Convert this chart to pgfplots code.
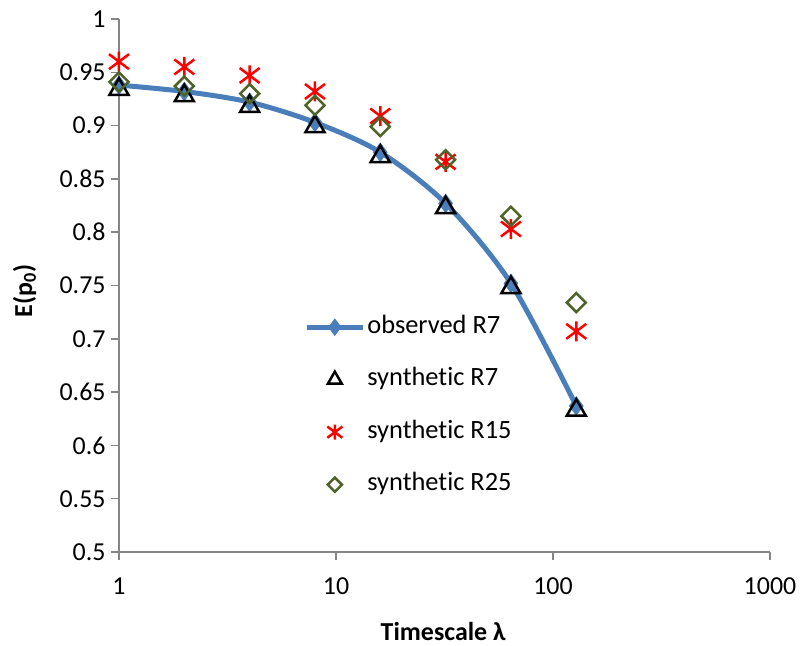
\documentclass[border=0pt]{standalone}
\usepackage{fontspec}
\setmainfont{Carlito}[Ligatures=NoCommon]
\usepackage{pgfplots}
\pgfplotsset{compat=1.18}
\definecolor{obsblue}{RGB}{74,126,187}
\definecolor{axgray}{RGB}{134,134,134}
\definecolor{olivegreen}{RGB}{79,98,40}
\pgfdeclareplotmark{xstar}{%
  \pgfpathmoveto{\pgfqpoint{0pt}{\pgfplotmarksize}}%
  \pgfpathlineto{\pgfqpoint{0pt}{-\pgfplotmarksize}}%
  \pgfpathmoveto{\pgfqpoint{-\pgfplotmarksize}{.75\pgfplotmarksize}}%
  \pgfpathlineto{\pgfqpoint{\pgfplotmarksize}{-.75\pgfplotmarksize}}%
  \pgfpathmoveto{\pgfqpoint{-\pgfplotmarksize}{-.75\pgfplotmarksize}}%
  \pgfpathlineto{\pgfqpoint{\pgfplotmarksize}{.75\pgfplotmarksize}}%
  \pgfusepathqstroke}
\begin{document}
\begin{tikzpicture}
\begin{axis}[
  at={(0,0)}, anchor=south west, scale only axis,
  width=651bp, height=533bp,
  xmode=log, xmin=1, xmax=1000, ymin=0.5, ymax=1,
  axis lines=left, axis line style={-, draw=axgray, line width=1.5bp},
  tick align=outside, major tick length=8bp,
  tick style={draw=axgray, line width=1.5bp},
  xminorticks=false, yminorticks=false,
  xtick={1,10,100,1000}, xticklabels={1,10,100,1000},
  ytick={0.5,0.55,0.6,0.65,0.7,0.75,0.8,0.85,0.9,0.95,1},
  yticklabels={0.5,0.55,0.6,0.65,0.7,0.75,0.8,0.85,0.9,0.95,1},
  /pgf/number format/assume math mode=true,
  ticklabel style={font=\fontsize{26}{31}\selectfont},
  xticklabel style={yshift=-14bp},
  yticklabel style={xshift=-2bp},
  xlabel={\bfseries Timescale λ},
  ylabel={\bfseries E(p\textsubscript{0})},
  label style={font=\fontsize{26}{31}\selectfont},
  xlabel style={at={(axis description cs:0.498,-0.150)}, anchor=center},
  ylabel style={at={(axis description cs:-0.145,0.49)}, anchor=center, rotate=0},
  legend image code/.code={\draw[mark repeat=2,mark phase=2,#1] plot coordinates {(0bp,0bp) (28bp,0bp) (56bp,0bp)};},
  legend cell align=left,
  legend style={at={(0.2844,0.4485)}, anchor=north west, draw=none, fill=none,
    inner sep=0pt, row sep=24.5bp, font=\fontsize{26.5}{31}\selectfont,
    nodes={inner sep=2bp, text height=18bp, text depth=6bp}},
]
\addplot[obsblue, line width=5bp, smooth, tension=0.5, mark=diamond*, mark size=9bp,
  mark options={fill=obsblue, draw=obsblue, line width=1bp}, forget plot]
  coordinates {(1,0.938) (2,0.932) (4,0.922) (8,0.903) (16,0.875) (32,0.827) (64,0.752) (128,0.637)};
\addplot[only marks, mark=triangle, mark size=11bp, mark options={draw=black, line width=2.5bp}, forget plot]
  coordinates {(1,0.934) (2,0.928) (4,0.918) (8,0.899) (16,0.871) (32,0.823) (64,0.748) (128,0.633)};
\addplot[only marks, mark=xstar, mark size=10bp, mark options={draw=red, line width=2.5bp}, forget plot]
  coordinates {(1,0.960) (2,0.955) (4,0.947) (8,0.932) (16,0.909) (32,0.866) (64,0.803) (128,0.707)};
\addplot[only marks, mark=square, mark size=6.7bp, mark options={draw=olivegreen, line width=2.5bp, rotate=45}, forget plot]
  coordinates {(1,0.941) (2,0.937) (4,0.930) (8,0.919) (16,0.899) (32,0.868) (64,0.815) (128,0.734)};
\addlegendimage{obsblue, line width=5bp, mark=diamond*, mark size=8bp, mark options={fill=obsblue, draw=obsblue, line width=1bp}}
\addlegendentry{observed R7}
\addlegendimage{only marks, mark=triangle, mark size=8bp, mark options={draw=black, line width=2.5bp}}
\addlegendentry{synthetic R7}
\addlegendimage{only marks, mark=xstar, mark size=7.5bp, mark options={draw=red, line width=2.5bp}}
\addlegendentry{synthetic R15}
\addlegendimage{only marks, mark=square, mark size=5bp, mark options={draw=olivegreen, line width=2.5bp, rotate=45}}
\addlegendentry{synthetic R25}
\end{axis}
\pgfresetboundingbox
\path (-119bp,-94bp) rectangle (681bp,552bp);
\end{tikzpicture}
\end{document}
